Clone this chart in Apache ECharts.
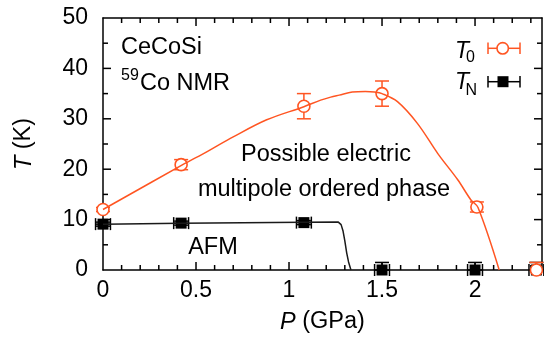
<!DOCTYPE html>
<html><head><meta charset="utf-8">
<script src="https://cdn.jsdelivr.net/npm/echarts@6/dist/echarts.min.js"></script>
<style>html,body{margin:0;padding:0;background:#fff}#c{width:544px;height:339px}</style>
</head><body><div id="c"></div>
<script>
// ---- data ----
const pressureT0 = [0, 0.42, 1.08, 1.5, 2.01, 2.33];
const tempT0 = [12, 20.9, 32.5, 35, 12.5, 0];
const errT0 = [0.4, 1, 2.5, 2.5, 1, 1.5];

const pressureTN = [0, 0.42, 1.08, 1.5, 2.0, 2.33];
const tempTN = [9.1, 9.3, 9.4, 0, 0, 0];
const errTN = [0.4, 0.4, 0.4, 1.5, 1.5, 1.5];
const xerrTN = [0.04, 0.04, 0.04, 0.04, 0.04, 0.04];

// guide curves
const curveT0P = [0, 0.424, 0.56, 0.70, 0.88, 1.08, 1.17, 1.224, 1.27, 1.34, 1.41, 1.46, 1.5, 1.583, 1.69, 1.80, 1.907, 1.978, 2.016, 2.13];
const curveT0T = [12, 20.8, 23.5, 26.4, 29.8, 32.4, 33.7, 34.3, 34.7, 35.3, 35.4, 35.3, 35.0, 33.4, 29.1, 23.1, 17.9, 13.9, 12.4, 0];
const curveTNP = [0, 0.42, 1.08, 1.265, 1.28, 1.29, 1.30, 1.31, 1.32, 1.333];
const curveTNT = [9.1, 9.3, 9.45, 9.5, 9.0, 7.8, 5.8, 3.4, 1.6, 0];

// tick values
const xTickLabels = ['0', '0.5', '1', '1.5', '2'];
const yTickLabels = ['0', '10', '20', '30', '40', '50'];
const xMajorTicks = [0.5, 1, 1.5, 2];
const xMinorTicks = [0.1, 0.2, 0.3, 0.4, 0.6, 0.7, 0.8, 0.9, 1.1, 1.2, 1.3, 1.4, 1.6, 1.7, 1.8, 1.9, 2.1, 2.2, 2.3];
const yMajorTicks = [10, 20, 30, 40];
const yMinorTicks = [5, 15, 25, 35, 45];

// ---- styles ----
const FONT = "'Liberation Sans', Arial, Helvetica, sans-serif";
const ORANGE = '#ff5522';
const BLACK = '#000';
const MAJOR = 8, MINOR = 5;
const XMIN = 0, XMAX = 2.36, YMIN = 0, YMAX = 50;

const zip = (a, b) => a.map((v, i) => [v, b[i]]);
function vErrData(p, t, e) { return p.map((v, i) => [v, Math.max(0, t[i] - e[i]), t[i] + e[i]]); }
function hErrData(p, t, e) { return p.map((v, i) => [v - e[i], v + e[i], t[i]]); }

function vErrSeries(data, color) {
  return {
    type: 'custom', data: data, encode: { x: 0, y: [1, 2] }, silent: true,
    renderItem: function (params, api) {
      const x = api.value(0), lo = api.value(1), hi = api.value(2);
      const a = api.coord([x, lo]), b = api.coord([x, hi]);
      const w = 7, st = { stroke: color, lineWidth: 1.5 };
      const ch = [
        { type: 'line', shape: { x1: a[0], y1: a[1], x2: b[0], y2: b[1] }, style: st },
        { type: 'line', shape: { x1: b[0] - w, y1: b[1], x2: b[0] + w, y2: b[1] }, style: st }
      ];
      if (lo > 0) ch.push({ type: 'line', shape: { x1: a[0] - w, y1: a[1], x2: a[0] + w, y2: a[1] }, style: st });
      return { type: 'group', children: ch };
    }
  };
}
function hErrSeries(data, color) {
  return {
    type: 'custom', data: data, encode: { x: [0, 1], y: 2 }, silent: true,
    renderItem: function (params, api) {
      const l = api.value(0), r = api.value(1), y = api.value(2);
      const a = api.coord([l, y]), b = api.coord([r, y]);
      const h = 6, st = { stroke: color, lineWidth: 1.5 };
      return { type: 'group', children: [
        { type: 'line', shape: { x1: a[0], y1: a[1], x2: b[0], y2: b[1] }, style: st },
        { type: 'line', shape: { x1: a[0], y1: a[1] - h, x2: a[0], y2: a[1] + h }, style: st },
        { type: 'line', shape: { x1: b[0], y1: b[1] - h, x2: b[0], y2: b[1] + h }, style: st }
      ]};
    }
  };
}

// inward ticks along x (bottom + top), placed through the axis scale
function xTickSeries(values, len) {
  return {
    type: 'custom', data: values.map(v => [v, YMIN, YMAX]), encode: { x: 0, y: [1, 2] }, silent: true,
    renderItem: function (params, api) {
      const b = api.coord([api.value(0), YMIN]), t = api.coord([api.value(0), YMAX]);
      const st = { stroke: BLACK, lineWidth: 1.5 };
      return { type: 'group', children: [
        { type: 'line', shape: { x1: b[0], y1: b[1], x2: b[0], y2: b[1] - len }, style: st },
        { type: 'line', shape: { x1: t[0], y1: t[1], x2: t[0], y2: t[1] + len }, style: st }
      ]};
    }
  };
}
// inward ticks along y (left + right)
function yTickSeries(values, len) {
  return {
    type: 'custom', data: values.map(v => [XMIN, XMAX, v]), encode: { x: [0, 1], y: 2 }, silent: true,
    renderItem: function (params, api) {
      const l = api.coord([XMIN, api.value(2)]), r = api.coord([XMAX, api.value(2)]);
      const st = { stroke: BLACK, lineWidth: 1.5 };
      return { type: 'group', children: [
        { type: 'line', shape: { x1: l[0], y1: l[1], x2: l[0] + len, y2: l[1] }, style: st },
        { type: 'line', shape: { x1: r[0], y1: r[1], x2: r[0] - len, y2: r[1] }, style: st }
      ]};
    }
  };
}

const axisLine = { show: true, onZero: false, lineStyle: { color: BLACK, width: 1.5 } };
const richName = { fontSize: 23.5, fontFamily: FONT, color: BLACK, rich: { i: { fontStyle: 'italic', fontSize: 23.5, fontFamily: FONT, color: BLACK } } };

const option = {
  animation: false,
  backgroundColor: '#fff',
  grid: { left: 103, right: 2, top: 18, bottom: 69 },
  xAxis: [
    { type: 'value', position: 'bottom', min: XMIN, max: XMAX, interval: 0.5,
      axisLine: axisLine, axisTick: { show: false }, splitLine: { show: false },
      axisLabel: { show: true, showMaxLabel: false, margin: 9, fontSize: 23, fontFamily: FONT, color: BLACK,
        formatter: function (v) { const i = Math.round(v / 0.5); return Math.abs(v - i * 0.5) < 1e-6 && i < xTickLabels.length ? xTickLabels[i] : ''; } },
      name: '{i|P} (GPa)', nameLocation: 'middle', nameGap: 40, nameTextStyle: richName },
    { type: 'value', position: 'top', min: XMIN, max: XMAX, interval: 0.5,
      axisLine: axisLine, axisTick: { show: false }, splitLine: { show: false }, axisLabel: { show: false } }
  ],
  yAxis: [
    { type: 'value', position: 'left', min: YMIN, max: YMAX, interval: 10,
      axisLine: axisLine, axisTick: { show: false }, splitLine: { show: false },
      axisLabel: { show: true, margin: 15, fontSize: 23, fontFamily: FONT, color: BLACK,
        formatter: function (v) { const i = Math.round(v / 10); return yTickLabels[i] || ''; } },
      name: '{i|T} (K)', nameLocation: 'middle', nameGap: 67, nameRotate: 90, nameTextStyle: richName },
    { type: 'value', position: 'right', min: YMIN, max: YMAX, interval: 10,
      axisLine: axisLine, axisTick: { show: false }, splitLine: { show: false }, axisLabel: { show: false } }
  ],
  series: [
    xTickSeries(xMajorTicks, MAJOR),
    xTickSeries(xMinorTicks, MINOR),
    yTickSeries(yMajorTicks, MAJOR),
    yTickSeries(yMinorTicks, MINOR),
    { type: 'line', data: zip(curveTNP, curveTNT), showSymbol: false, silent: true, lineStyle: { color: '#1a1a1a', width: 1.5 } },
    { type: 'line', data: zip(curveT0P, curveT0T), showSymbol: false, silent: true, smooth: 0.35, lineStyle: { color: ORANGE, width: 1.5 } },
    vErrSeries(vErrData(pressureTN, tempTN, errTN), BLACK),
    hErrSeries(hErrData(pressureTN, tempTN, xerrTN), BLACK),
    { type: 'scatter', data: zip(pressureTN, tempTN), symbol: 'rect', symbolSize: 11, silent: true, clip: false,
      itemStyle: { color: BLACK, opacity: 1 } },
    vErrSeries(vErrData(pressureT0, tempT0, errT0), ORANGE),
    { type: 'scatter', data: zip(pressureT0, tempT0), symbol: 'circle', symbolSize: 12, silent: true, clip: false,
      itemStyle: { color: '#fff', borderColor: ORANGE, borderWidth: 1.6, opacity: 1 } }
  ],
  graphic: [
    { type: 'text', z: 50, style: { x: 121, y: 47.5, text: 'CeCoSi', fill: BLACK, font: '23.5px ' + FONT, align: 'left', verticalAlign: 'middle' } },
    { type: 'text', z: 50, style: { x: 121, y: 76, text: '59', fill: BLACK, font: '16px ' + FONT, align: 'left', verticalAlign: 'middle' } },
    { type: 'text', z: 50, style: { x: 140, y: 83.3, text: 'Co NMR', fill: BLACK, font: '23.5px ' + FONT, align: 'left', verticalAlign: 'middle' } },
    { type: 'text', z: 50, style: { x: 326, y: 155, text: 'Possible electric', fill: BLACK, font: '23.5px ' + FONT, align: 'center', verticalAlign: 'middle' } },
    { type: 'text', z: 50, style: { x: 324, y: 190, text: 'multipole ordered phase', fill: BLACK, font: '23.5px ' + FONT, align: 'center', verticalAlign: 'middle' } },
    { type: 'text', z: 50, style: { x: 213, y: 247.5, text: 'AFM', fill: BLACK, font: '23.5px ' + FONT, align: 'center', verticalAlign: 'middle' } },
    // legend
    { type: 'text', z: 50, style: { x: 455, y: 52, text: 'T', fill: BLACK, font: 'italic 23px ' + FONT, align: 'left', verticalAlign: 'middle' } },
    { type: 'text', z: 50, style: { x: 466, y: 57.5, text: '0', fill: BLACK, font: '16px ' + FONT, align: 'left', verticalAlign: 'middle' } },
    { type: 'text', z: 50, style: { x: 455, y: 82.5, text: 'T', fill: BLACK, font: 'italic 23px ' + FONT, align: 'left', verticalAlign: 'middle' } },
    { type: 'text', z: 50, style: { x: 465.5, y: 90.8, text: 'N', fill: BLACK, font: '16px ' + FONT, align: 'left', verticalAlign: 'middle' } },
    { type: 'line', z: 50, shape: { x1: 488, y1: 48.3, x2: 520, y2: 48.3 }, style: { stroke: ORANGE, lineWidth: 1.5 } },
    { type: 'line', z: 50, shape: { x1: 488, y1: 42.5, x2: 488, y2: 54 }, style: { stroke: ORANGE, lineWidth: 1.5 } },
    { type: 'line', z: 50, shape: { x1: 520, y1: 42.5, x2: 520, y2: 54 }, style: { stroke: ORANGE, lineWidth: 1.5 } },
    { type: 'circle', z: 51, shape: { cx: 502.7, cy: 48.3, r: 5.7 }, style: { fill: '#fff', stroke: ORANGE, lineWidth: 1.6 } },
    { type: 'line', z: 50, shape: { x1: 488, y1: 81.7, x2: 520, y2: 81.7 }, style: { stroke: BLACK, lineWidth: 1.5 } },
    { type: 'line', z: 50, shape: { x1: 488, y1: 76, x2: 488, y2: 87.5 }, style: { stroke: BLACK, lineWidth: 1.5 } },
    { type: 'line', z: 50, shape: { x1: 520, y1: 76, x2: 520, y2: 87.5 }, style: { stroke: BLACK, lineWidth: 1.5 } },
    { type: 'rect', z: 51, shape: { x: 497.5, y: 76.2, width: 11, height: 11 }, style: { fill: BLACK } }
  ]
};

const chart = echarts.init(document.getElementById('c'), null, { renderer: 'canvas' });
chart.setOption(option);
</script>
</body></html>
